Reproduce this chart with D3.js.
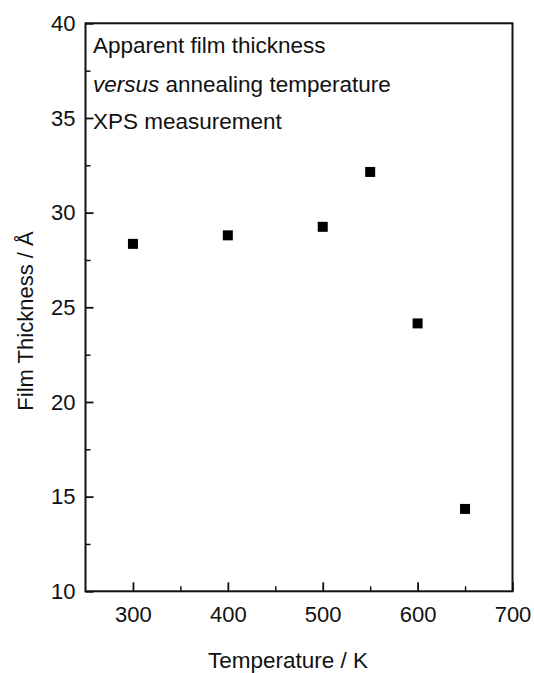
<!DOCTYPE html>
<html>
<head>
<meta charset="utf-8">
<script src="https://cdn.jsdelivr.net/npm/d3@7"></script>
<style>
  html, body { margin: 0; padding: 0; background: #fff; }
  svg { display: block; }
  text { font-family: "Liberation Sans", Arial, sans-serif; fill: #111; }
</style>
</head>
<body>
<svg id="chart" width="534" height="673"></svg>
<script>
// ---- data ----
const temperatures = [300, 400, 500, 550, 600, 650];
const thickness = [28.35, 28.8, 29.25, 32.15, 24.15, 14.35];
const xMajorTicks = [300, 400, 500, 600, 700];
const xMinorTicks = [350, 450, 550, 650];
const yMajorTicks = [10, 15, 20, 25, 30, 35, 40];
const yMinorTicks = [12.5, 17.5, 22.5, 27.5, 32.5, 37.5];
const annotationLines = ["Apparent film thickness", "versus annealing temperature", "XPS measurement"];
const xTitle = "Temperature / K";
const yTitle = "Film Thickness / Å";

// ---- layout ----
const M = { l: 85.5, r: 512.5, t: 23.3, b: 591.3 };
const fontSize = 22;

const svg = d3.select("#chart");
const x = d3.scaleLinear().domain([250, 700]).range([M.l, M.r]);
const y = d3.scaleLinear().domain([10, 40]).range([M.b, M.t]);

// frame
svg.append("rect")
  .attr("x", M.l).attr("y", M.t)
  .attr("width", M.r - M.l).attr("height", M.b - M.t)
  .attr("fill", "none").attr("stroke", "#111").attr("stroke-width", 2);

// x axis (ticks inward)
const gx = svg.append("g").attr("transform", `translate(0,${M.b})`);
gx.call(d3.axisBottom(x).tickValues(xMajorTicks).tickSizeInner(-9).tickSizeOuter(0).tickPadding(15))
  .call(g => g.select(".domain").remove());
gx.selectAll(".tick line").attr("stroke", "#111").attr("stroke-width", 1.8);
gx.selectAll(".tick text").attr("font-size", fontSize).attr("font-family", "Liberation Sans, Arial, sans-serif").attr("fill", "#111");
const gxm = svg.append("g").attr("transform", `translate(0,${M.b})`);
gxm.call(d3.axisBottom(x).tickValues(xMinorTicks).tickSizeInner(-5).tickSizeOuter(0).tickFormat(""))
  .call(g => g.select(".domain").remove());
gxm.selectAll(".tick line").attr("stroke", "#111").attr("stroke-width", 1.5);

// y axis (ticks inward)
const gy = svg.append("g").attr("transform", `translate(${M.l},0)`);
gy.call(d3.axisLeft(y).tickValues(yMajorTicks).tickSizeInner(-8).tickSizeOuter(0).tickPadding(10))
  .call(g => g.select(".domain").remove());
gy.selectAll(".tick line").attr("stroke", "#111").attr("stroke-width", 1.8);
gy.selectAll(".tick text").attr("font-size", fontSize).attr("font-family", "Liberation Sans, Arial, sans-serif").attr("fill", "#111");
const gym = svg.append("g").attr("transform", `translate(${M.l},0)`);
gym.call(d3.axisLeft(y).tickValues(yMinorTicks).tickSizeInner(-5).tickSizeOuter(0).tickFormat(""))
  .call(g => g.select(".domain").remove());
gym.selectAll(".tick line").attr("stroke", "#111").attr("stroke-width", 1.5);

// data points: filled squares
const sq = 10;
svg.append("g").selectAll("rect")
  .data(temperatures.map((t, i) => ({ t, v: thickness[i] })))
  .join("rect")
  .attr("x", d => x(d.t) - sq / 2)
  .attr("y", d => y(d.v) - sq / 2)
  .attr("width", sq).attr("height", sq)
  .attr("fill", "#000");

// annotations
const ann = svg.append("g").attr("font-size", fontSize + 0.5);
const baselines = [53, 91.5, 129];
annotationLines.forEach((line, i) => {
  const t = ann.append("text").attr("x", 93).attr("y", baselines[i]);
  if (line.startsWith("versus")) {
    t.append("tspan").attr("font-style", "italic").text("versus");
    t.append("tspan").text(line.slice(6));
  } else {
    t.text(line);
  }
});

// axis titles
svg.append("text")
  .attr("x", (M.l + M.r) / 2 - 11).attr("y", 668)
  .attr("text-anchor", "middle").attr("font-size", fontSize + 0.5)
  .text(xTitle);
svg.append("text")
  .attr("transform", `translate(33,321) rotate(-90)`)
  .attr("text-anchor", "middle").attr("font-size", fontSize)
  .text(yTitle);
</script>
</body>
</html>
